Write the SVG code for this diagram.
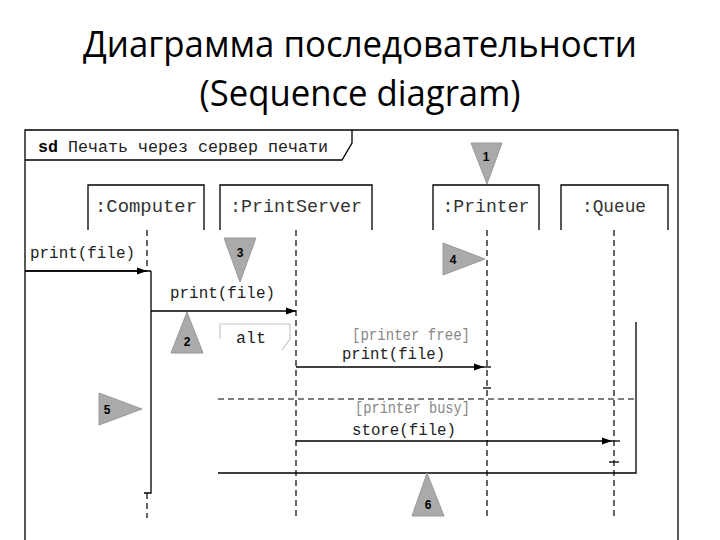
<svg xmlns="http://www.w3.org/2000/svg" width="720" height="540" viewBox="0 0 720 540">
<defs>
<marker id="arr" viewBox="0 0 10 10" refX="10" refY="5" markerWidth="10" markerHeight="10" markerUnits="userSpaceOnUse" orient="auto">
<path d="M0,1.5 L10,5 L0,8.5 Z" fill="#000"/>
</marker>
</defs>
<style>
.title{font-family:"Open Sans","Noto Sans","Liberation Sans",sans-serif;font-size:36px;fill:#000;text-anchor:middle}
.mono{font-family:"Liberation Mono","DejaVu Sans Mono",monospace;font-size:16px;fill:#222}
.head{font-family:"Liberation Mono","DejaVu Sans Mono",monospace;font-size:18px;fill:#333;text-anchor:middle}
.guard{fill:#888}
.line{fill:none;stroke:#000;stroke-width:1.3}
.dash{fill:none;stroke:#000;stroke-width:1.2;stroke-dasharray:6,4}
.tri{fill:#aaaaaa;stroke:#9a9a9a;stroke-width:1}
.num{font-family:"Liberation Sans",Arial,sans-serif;font-size:12px;font-weight:bold;fill:#000;text-anchor:middle}
</style>
<rect width="720" height="540" fill="#fff"/>
<text class="title" x="360" y="57" textLength="554" lengthAdjust="spacingAndGlyphs">Диаграмма последовательности</text>
<text class="title" x="360" y="106" textLength="321" lengthAdjust="spacingAndGlyphs">(Sequence diagram)</text>

<g id="frame">
<path class="line" d="M25,560 V130 H678 V560"/>
<path class="line" d="M25,160 H342 L352,143 V130"/>
<text class="mono" x="38" y="152" textLength="290" lengthAdjust="spacingAndGlyphs"><tspan font-weight="bold" fill="#000">sd</tspan> Печать через сервер печати</text>
</g>

<g id="computer">
<path class="line" d="M88,230 V185 H204 V230"/>
<text class="head" x="146" y="212" textLength="102" lengthAdjust="spacingAndGlyphs">:Computer</text>
</g>
<g id="printserver">
<path class="line" d="M220,230 V185 H372 V230"/>
<text class="head" x="296" y="212" textLength="132" lengthAdjust="spacingAndGlyphs">:PrintServer</text>
</g>
<g id="printer">
<path class="line" d="M433,230 V185 H539 V230"/>
<text class="head" x="486" y="212" textLength="87" lengthAdjust="spacingAndGlyphs">:Printer</text>
</g>
<g id="queue">
<path class="line" d="M561,230 V185 H668 V230"/>
<text class="head" x="614" y="212" textLength="64" lengthAdjust="spacingAndGlyphs">:Queue</text>
</g>

<g id="alt">
<path d="M220,339 V324 H290 V339 L282,350" fill="none" stroke="#c8c8c8" stroke-width="1.2"/>
<text class="mono" x="236" y="343" textLength="30" lengthAdjust="spacingAndGlyphs">alt</text>
<path class="line" d="M636,322 V473 H218"/>
<path class="dash" d="M218,399 H636"/>
<text class="mono guard" x="352" y="340" textLength="118" lengthAdjust="spacingAndGlyphs">[printer free]</text>
<text class="mono guard" x="355" y="413" textLength="115" lengthAdjust="spacingAndGlyphs">[printer busy]</text>
</g>

<g id="connectors">
<path class="dash" d="M147,230 V271"/>
<path class="dash" d="M147,493 V518"/>
<path class="dash" d="M296,230 V518"/>
<path class="dash" d="M487,230 V518"/>
<path class="dash" d="M614,230 V518"/>
<path class="line" d="M151,271 V493 H144"/>
<path class="line" d="M25,271 H151"/>
<path class="line" d="M25,271 H147" marker-end="url(#arr)"/>
<path class="line" d="M151,311 H296" marker-end="url(#arr)"/>
<path class="line" d="M296,367 H484" marker-end="url(#arr)"/>
<path class="line" d="M484,367 H491"/>
<path class="line" d="M483,388 H491"/>
<path class="line" d="M296,441 H612" marker-end="url(#arr)"/>
<path class="line" d="M612,441 H620"/>
<path class="line" d="M609,462 H619"/>
<text class="mono" x="30" y="258" textLength="105" lengthAdjust="spacingAndGlyphs">print(file)</text>
<text class="mono" x="170" y="298" textLength="105" lengthAdjust="spacingAndGlyphs">print(file)</text>
<text class="mono" x="342" y="359" textLength="103" lengthAdjust="spacingAndGlyphs">print(file)</text>
<text class="mono" x="352" y="435" textLength="104" lengthAdjust="spacingAndGlyphs" fill="#666">store(file)</text>
</g>

<g id="callout1"><polygon class="tri" points="471,143 502,143 487,184"/><text class="num" x="486" y="161">1</text></g>
<g id="callout2"><polygon class="tri" points="187,312 203,353 171,353"/><text class="num" x="187" y="346">2</text></g>
<g id="callout3"><polygon class="tri" points="224,238 256,238 240,282"/><text class="num" x="240" y="257">3</text></g>
<g id="callout4"><polygon class="tri" points="443,243 485,259 443,275"/><text class="num" x="453" y="264">4</text></g>
<g id="callout5"><polygon class="tri" points="99,393 142,409 99,425"/><text class="num" x="107" y="414">5</text></g>
<g id="callout6"><polygon class="tri" points="427,473 444,516 412,516"/><text class="num" x="428" y="509">6</text></g>
</svg>
